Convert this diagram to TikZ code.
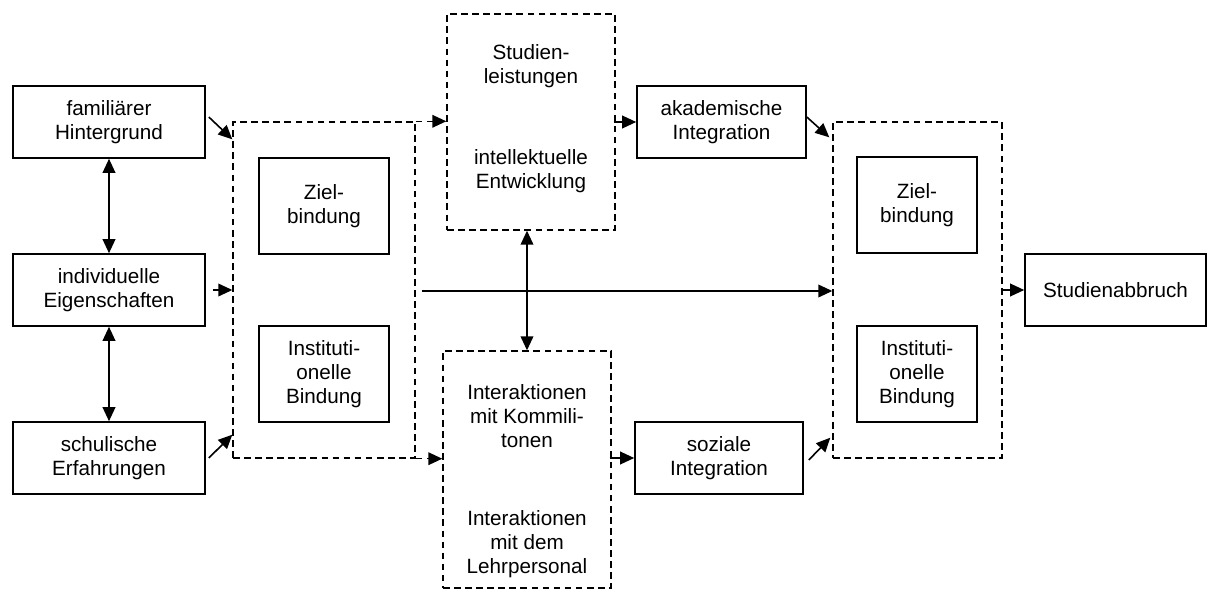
\documentclass[tikz,border=0pt]{standalone}
\usepackage{fontspec}
\setmainfont{Liberation Sans}
\usetikzlibrary{arrows.meta,calc}
\begin{document}
\begin{tikzpicture}[x=0.75pt,y=-0.75pt,
 every node/.style={font=\fontsize{15.5pt}{18pt}\selectfont, align=center, inner sep=0pt},
 solidbox/.style={draw, line width=1.2pt, rectangle},
 dashbox/.style={draw, line width=1.05pt, dash pattern=on 5pt off 3.3pt, rectangle},
 arr/.style={line width=1.2pt, -{Triangle[length=10.5pt,width=9.5pt]}},
 darr/.style={line width=1.2pt, {Triangle[length=10.5pt,width=9.5pt]}-{Triangle[length=10.5pt,width=9.5pt]}},
 dasharr/.style={line width=1.05pt, dash pattern=on 5pt off 3.3pt, -{Triangle[length=10.5pt,width=9.5pt]}}]
\useasboundingbox (0,0) rectangle (1211,590);
% left column
\node[solidbox, minimum width=144pt, minimum height=54pt] (F) at (109,122) {familiärer\\Hintergrund};
\node[solidbox, minimum width=144pt, minimum height=54pt] (I) at (109,290) {individuelle\\Eigenschaften};
\node[solidbox, minimum width=144pt, minimum height=54pt] (S) at (109,458) {schulische\\Erfahrungen};
% left dashed group
\node[dashbox, minimum width=136.5pt, minimum height=252pt] (L) at (324,290) {};
\node[solidbox, minimum width=97.5pt, minimum height=72pt] (Z1) at (324,206) {Ziel-\\bindung};
\node[solidbox, minimum width=97.5pt, minimum height=72pt] (B1) at (324,374) {Instituti-\\onelle\\Bindung};
% middle top
\node[dashbox, minimum width=126pt, minimum height=162pt] (M1) at (531,122) {};
\node (T1) at (531,66) {Studien-\\leistungen};
\node (T2) at (531,171) {intellektuelle\\Entwicklung};
% middle bottom
\node[dashbox, minimum width=126pt, minimum height=177.75pt] (M2) at (527,469.5) {};
\node (T3) at (527,416) {Interaktionen\\mit Kommili-\\tonen};
\node (T4) at (527,544) {Interaktionen\\mit dem\\Lehrpersonal};
% integration
\node[solidbox, minimum width=126.75pt, minimum height=54pt] (A) at (721.5,122) {akademische\\Integration};
\node[solidbox, minimum width=126pt, minimum height=54pt] (So) at (719,458) {soziale\\Integration};
% right dashed group
\node[dashbox, minimum width=126.75pt, minimum height=252pt] (R) at (917.5,290) {};
\node[solidbox, minimum width=90pt, minimum height=72pt] (Z2) at (917,205) {Ziel-\\bindung};
\node[solidbox, minimum width=90pt, minimum height=72pt] (B2) at (917,374) {Instituti-\\onelle\\Bindung};
% outcome
\node[solidbox, minimum width=135.75pt, minimum height=54pt] (D) at (1115.5,290) {Studienabbruch};
% connectors
\draw[darr] (F) -- (I);
\draw[darr] (I) -- (S);
\draw[arr] ($(F.east)+(3,-5)$) -- ($(L.north west)+(0,18)$);
\draw[arr] ($(I.east)+(7,0)$) -- (L.west);
\draw[arr] ($(S.east)+(3,0)$) -- ($(L.south west)+(0,-24)$);
\draw[dasharr] (L.north east) -- (L.north east -| M1.west);
\draw[dasharr] (L.south east) -- (L.south east -| M2.west);
\draw[arr] ($(L.east)+(6,1)$) -- ($(R.west)+(0,1)$);
\draw[darr] (M2.north |- M1.south) -- (M2.north);
\draw[arr] ($(M1.east)+(-2,0)$) -- (A.west);
\draw[arr] ($(M2.east |- So.west)+(-2,0)$) -- (So.west);
\draw[arr] ($(A.east)+(0,-5)$) -- ($(R.north west)+(-3,16)$);
\draw[arr] ($(So.east)+(5,2)$) -- ($(R.south west)+(-2,-21)$);
\draw[arr] ($(R.east)+(-2,0)$) -- (D.west);
\end{tikzpicture}
\end{document}
